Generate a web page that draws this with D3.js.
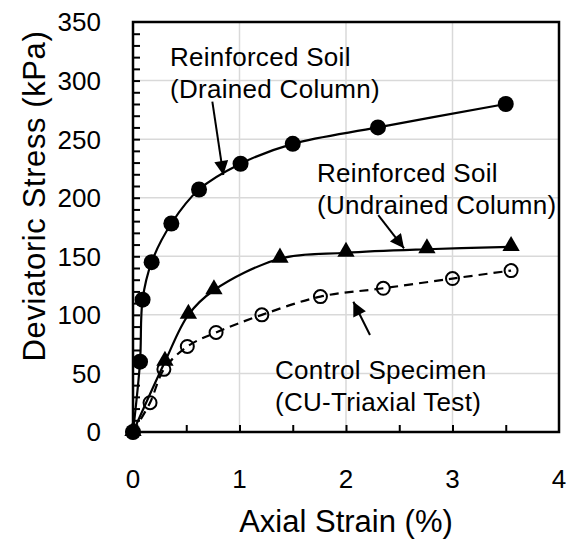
<html>
<head>
<script src="https://d3js.org/d3.v7.min.js"></script>
<style>
  body { margin: 0; background: #fff; }
  text { font-family: "Liberation Sans", Arial, sans-serif; fill: #000; }
</style>
</head>
<body>
<svg></svg>
<script>
// data (axial strain %, deviatoric stress kPa)
var drainedStrain = [0, 0.066, 0.09, 0.175, 0.36, 0.62, 1.01, 1.5, 2.3, 3.5];
var drainedStress = [0, 60, 113, 145, 178, 207, 229, 246, 260, 280];

var undrainedStrain = [0, 0.30, 0.52, 0.76, 1.38, 2.0, 2.76, 3.55];
var undrainedStress = [0, 60, 100, 121, 148, 153, 156, 158];

var controlStrain = [0, 0.16, 0.29, 0.51, 0.78, 1.21, 1.76, 2.35, 3.0, 3.55];
var controlStress = [0, 25, 53.5, 73, 85, 100, 115.6, 122.7, 131, 137.8];

var xTicks = [0, 1, 2, 3, 4];
var yTicks = [0, 50, 100, 150, 200, 250, 300, 350];

var width = 566,
    height = 542,
    margin = {top: 22, right: 7, bottom: 110, left: 133};

var svg = d3.select("svg")
            .attr("width", width)
            .attr("height", height);

var x = d3.scaleLinear().domain([0, 4]).range([margin.left, width - margin.right]);
var y = d3.scaleLinear().domain([0, 350]).range([height - margin.bottom, margin.top]);

// gridlines
svg.append("g")
   .selectAll("line")
   .data(xTicks.slice(1, -1))
   .enter().append("line")
   .attr("x1", d => x(d)).attr("x2", d => x(d))
   .attr("y1", y(0)).attr("y2", y(350))
   .attr("stroke", "#d9d9d9").attr("stroke-width", 1.5);
svg.append("g")
   .selectAll("line")
   .data(yTicks.slice(1, -1))
   .enter().append("line")
   .attr("x1", x(0)).attr("x2", x(4))
   .attr("y1", d => y(d)).attr("y2", d => y(d))
   .attr("stroke", "#d9d9d9").attr("stroke-width", 1.5);

// inside ticks (major + minor)
svg.append("g")
   .attr("transform", "translate(0," + y(0) + ")")
   .call(d3.axisBottom(x).tickValues(d3.range(0.5, 4, 0.5)).tickSize(-7).tickFormat(""))
   .call(g => g.select(".domain").remove())
   .selectAll("line").attr("stroke-width", 2);
svg.append("g")
   .attr("transform", "translate(" + x(0) + ",0)")
   .call(d3.axisLeft(y).tickValues(d3.range(10, 350, 10)).tickSize(-7).tickFormat(""))
   .call(g => g.select(".domain").remove())
   .selectAll("line").attr("stroke-width", 2);

// frame
svg.append("rect")
   .attr("x", x(0)).attr("y", y(350))
   .attr("width", x(4) - x(0)).attr("height", y(0) - y(350))
   .attr("fill", "none").attr("stroke", "#000").attr("stroke-width", 2.5);

// tick labels
svg.append("g")
   .selectAll("text")
   .data(yTicks)
   .enter().append("text")
   .attr("x", x(0) - 32)
   .attr("y", d => y(d))
   .attr("dy", "0.36em")
   .attr("text-anchor", "end")
   .attr("font-size", 26)
   .text(d => d);
svg.append("g")
   .selectAll("text")
   .data(xTicks)
   .enter().append("text")
   .attr("x", d => x(d))
   .attr("y", y(0) + 56)
   .attr("text-anchor", "middle")
   .attr("font-size", 26)
   .text(d => d);

// axis titles
svg.append("text")
   .attr("x", (x(0) + x(4)) / 2)
   .attr("y", 532)
   .attr("text-anchor", "middle")
   .attr("font-size", 31)
   .text("Axial Strain (%)");
svg.append("text")
   .attr("transform", "translate(45," + 196 + ")rotate(-90)")
   .attr("text-anchor", "middle")
   .attr("font-size", 31)
   .attr("letter-spacing", 0.6)
   .text("Deviatoric Stress (kPa)");

// curves
var line = d3.line()
             .x(d => x(d[0]))
             .y(d => y(d[1]))
             .curve(d3.curveCatmullRom.alpha(0.5));

var drained = d3.zip(drainedStrain, drainedStress);
var undrained = d3.zip(undrainedStrain, undrainedStress);
var control = d3.zip(controlStrain, controlStress);

svg.append("path").datum(control).attr("d", line)
   .attr("fill", "none").attr("stroke", "#000").attr("stroke-width", 2.2)
   .attr("stroke-dasharray", "9,6");
svg.append("path").datum(undrained).attr("d", line)
   .attr("fill", "none").attr("stroke", "#000").attr("stroke-width", 2.2);
svg.append("path").datum(drained).attr("d", line)
   .attr("fill", "none").attr("stroke", "#000").attr("stroke-width", 2.2);

// markers
svg.append("g")
   .selectAll("circle")
   .data(control)
   .enter().append("circle")
   .attr("cx", d => x(d[0])).attr("cy", d => y(d[1]))
   .attr("r", 6.5)
   .attr("fill", "none").attr("stroke", "#000").attr("stroke-width", 2);
svg.append("g")
   .selectAll("path")
   .data(undrained)
   .enter().append("path")
   .attr("transform", d => "translate(" + x(d[0]) + "," + (y(d[1]) - 1) + ")")
   .attr("d", d3.symbol().type(d3.symbolTriangle).size(130))
   .attr("fill", "#000");
svg.append("g")
   .selectAll("circle")
   .data(drained)
   .enter().append("circle")
   .attr("cx", d => x(d[0])).attr("cy", d => y(d[1]))
   .attr("r", 8)
   .attr("fill", "#000");

// annotations
svg.append("defs").append("marker")
   .attr("id", "head")
   .attr("viewBox", "0 0 10 10")
   .attr("refX", 10).attr("refY", 5)
   .attr("markerWidth", 9).attr("markerHeight", 7)
   .attr("markerUnits", "strokeWidth")
   .attr("orient", "auto")
   .append("path")
   .attr("d", "M0,0L10,5L0,10Z")
   .attr("fill", "#000");

var notes = [
  {lines: ["Reinforced Soil", "(Drained Column)"], at: [0.347, 312.4], from: [0.745, 282], to: [0.848, 219.4]},
  {lines: ["Reinforced Soil", "(Undrained Column)"], at: [1.728, 213.4], from: [2.303, 185.2], to: [2.545, 156.8]},
  {lines: ["Control Specimen", "(CU-Triaxial Test)"], at: [1.333, 45], from: [2.225, 82.8], to: [2.069, 111.2]}
];

notes.forEach(function(n) {
  var t = svg.append("text")
             .attr("x", x(n.at[0]))
             .attr("y", y(n.at[1]))
             .attr("font-size", 26)
             .attr("letter-spacing", 0.3);
  n.lines.forEach(function(s, i) {
    t.append("tspan").attr("x", x(n.at[0])).attr("dy", i ? 32 : 0).text(s);
  });
  svg.append("line")
     .attr("x1", x(n.from[0])).attr("y1", y(n.from[1]))
     .attr("x2", x(n.to[0])).attr("y2", y(n.to[1]))
     .attr("stroke", "#000").attr("stroke-width", 2)
     .attr("marker-end", "url(#head)");
});
</script>
</body>
</html>
